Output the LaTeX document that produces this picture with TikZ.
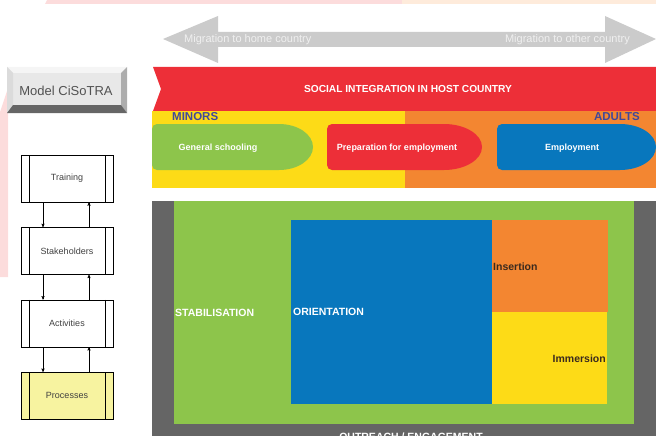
\documentclass[tikz,border=0pt]{standalone}
\usepackage{fontspec}
\setmainfont{Liberation Sans}
\usetikzlibrary{arrows,positioning,calc}

\definecolor{cisred}{HTML}{ED2F38}
\definecolor{cisyellow}{HTML}{FDDB17}
\definecolor{cisorange}{HTML}{F38631}
\definecolor{cisgreen}{HTML}{8DC54B}
\definecolor{cisblue}{HTML}{0877BD}
\definecolor{cisgrey}{HTML}{656565}
\definecolor{arrowgrey}{HTML}{CBCBCB}
\definecolor{cisnavy}{HTML}{41489A}
\definecolor{procyellow}{HTML}{F7F3A0}
\definecolor{cisbrown}{HTML}{3A2A1E}
\definecolor{pinkband}{HTML}{FCDCDC}
\definecolor{peachband}{HTML}{FEEBDB}

\tikzset{
	flowbox/.style={
		rectangle, draw=black, thin, minimum width=92pt, minimum height=47pt,
		inner sep=0pt, text=black!75, font=\fontsize{9}{10}\selectfont,
		path picture={
			\draw ([xshift=8pt]path picture bounding box.north west) -- ([xshift=8pt]path picture bounding box.south west);
			\draw ([xshift=-8pt]path picture bounding box.north east) -- ([xshift=-8pt]path picture bounding box.south east);
		}
	},
	%
	migtext/.style={
		text=white!94!black, inner sep=0pt, font=\fontsize{11}{12}\selectfont
	},
	%
	whitelabel/.style={
		text=white, inner sep=0pt, font=\fontsize{10.5}{12}\selectfont\bfseries
	},
	%
	pilltext/.style={
		text=white, inner sep=0pt, font=\fontsize{9}{10}\selectfont\bfseries
	},
	%
	agetext/.style={
		text=cisnavy, inner sep=0pt, font=\fontsize{11.5}{12}\selectfont\bfseries
	},
	%
	darklabel/.style={
		text=cisbrown, inner sep=0pt, font=\fontsize{10.5}{12}\selectfont\bfseries
	}
}

\begin{document}
\begin{tikzpicture}[x=1pt, y=-1pt]
    \useasboundingbox (0,0) rectangle (656,436);
    \clip (0,0) rectangle (656,436);
    % faint bands at the edges
    \fill[pinkband] (47,0) -- (402,0) -- (402,4) -- (45,4) -- cycle;
    \fill[peachband] (402,0) rectangle (656,4);
    \fill[pinkband] (0,112) -- (8,88) -- (8,277) -- (0,277) -- cycle;
    % migration arrow
    \fill[arrowgrey] (163,39) -- (218,16) -- (218,32) -- (605,32) -- (605,16) -- (656,39)
        -- (605,63) -- (605,47) -- (218,47) -- (218,63) -- cycle;
    \node(home)[migtext, anchor=west] at (184,40) {Migration to home country};
    \node(other)[migtext, anchor=east] at (630,40) {Migration to other country};
    % model button
    \fill[black!9] (7,67) rectangle (127,113);
    \fill[black!4] (7,67) -- (127,67) -- (121,73) -- (13,73) -- cycle;
    \fill[black!14] (7,67) -- (13,73) -- (13,105) -- (7,113) -- cycle;
    \fill[black!32] (127,67) -- (127,113) -- (121,105) -- (121,73) -- cycle;
    \fill[black!60] (7,113) -- (127,113) -- (121,105) -- (13,105) -- cycle;
    \node(model)[text=black!68, font=\fontsize{13}{14}\selectfont] at (66,91) {Model CiSoTRA};
    % social integration
    \fill[cisred] (153,67) -- (656,67) -- (656,111) -- (153,111) -- (161,89) -- cycle;
    \node(social)[whitelabel, font=\fontsize{10.2}{12}\selectfont\bfseries] at (408,89) {SOCIAL INTEGRATION IN HOST COUNTRY};
    \fill[cisyellow] (152,111) rectangle (405,188);
    \fill[cisorange] (405,111) rectangle (656,188);
    \node(minors)[agetext, anchor=west] at (172,117) {MINORS};
    \node(adults)[agetext, anchor=east] at (640,117) {ADULTS};
    \fill[cisgreen] (279,124) [rounded corners=5pt] -- (152,124) -- (152,170) [sharp corners] -- (279,170)
        arc[start angle=-90, end angle=90, x radius=34pt, y radius=23pt] -- cycle;
    \fill[cisred] (444,124) [rounded corners=5pt] -- (327,124) -- (327,170) [sharp corners] -- (444,170)
        arc[start angle=-90, end angle=90, x radius=38pt, y radius=23pt] -- cycle;
    \fill[cisblue] (620,124) [rounded corners=5pt] -- (497,124) -- (497,170) [sharp corners] -- (620,170)
        arc[start angle=-90, end angle=90, x radius=36pt, y radius=23pt] -- cycle;
    \node(schooling)[pilltext] at (218,148) {General schooling};
    \node(preparation)[pilltext] at (397,148) {Preparation for employment};
    \node(employment)[pilltext] at (572,148) {Employment};
    % outreach block
    \fill[cisgrey] (152,201) rectangle (656,436);
    \fill[cisgreen] (174,201) rectangle (634,424);
    \fill[cisblue] (291,220) rectangle (492,404);
    \fill[cisorange] (492,220) rectangle (608,312);
    \fill[cisyellow] (492,312) rectangle (607,404);
    \node(stabilisation)[whitelabel, anchor=west] at (175,313) {STABILISATION};
    \node(orientation)[whitelabel, anchor=west] at (293,312) {ORIENTATION};
    \node(insertion)[darklabel, anchor=west] at (493,267) {Insertion};
    \node(immersion)[darklabel, anchor=east] at (606,359) {Immersion};
    \node(outreach)[whitelabel, anchor=base] at (411,440) {OUTREACH / ENGAGEMENT};
    % flow of the model
    \node(training)[flowbox] at (67,178.5) {Training};
    \node(stakeholders)[flowbox, below=25pt of training] {Stakeholders};
    \node(activities)[flowbox, below=25pt of stakeholders] {Activities};
    \node(processes)[flowbox, fill=procyellow, below=25pt of activities] {Processes};
    \draw[->, >=stealth'] ([xshift=-24pt]training.south) -- ([xshift=-24pt]stakeholders.north);
    \draw[->, >=stealth'] ([xshift=22pt]stakeholders.north) -- ([xshift=22pt]training.south);
    \draw[->, >=stealth'] ([xshift=-24pt]stakeholders.south) -- ([xshift=-24pt]activities.north);
    \draw[->, >=stealth'] ([xshift=22pt]activities.north) -- ([xshift=22pt]stakeholders.south);
    \draw[->, >=stealth'] ([xshift=-24pt]activities.south) -- ([xshift=-24pt]processes.north);
    \draw[->, >=stealth'] ([xshift=22pt]processes.north) -- ([xshift=22pt]activities.south);
\end{tikzpicture}
\end{document}
